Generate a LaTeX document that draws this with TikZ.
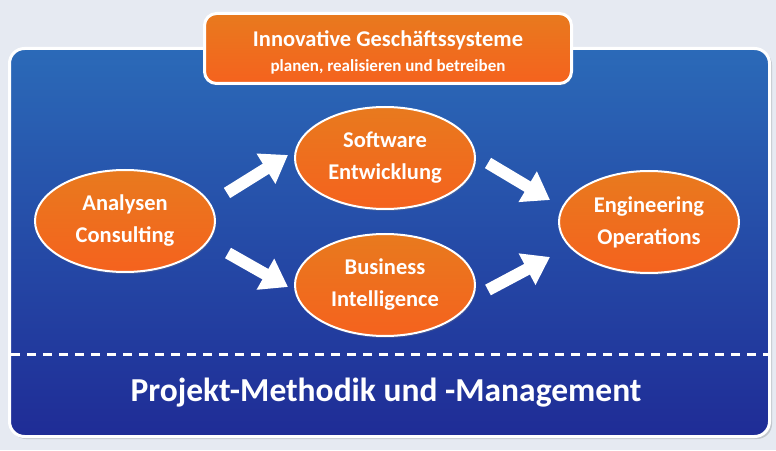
\documentclass[tikz,border=0pt]{standalone}
\usepackage{fontspec}
\setmainfont{Carlito}
\usetikzlibrary{shapes.geometric,arrows.meta,shadows}
\definecolor{bgpage}{RGB}{230,234,242}
\definecolor{paneltop}{RGB}{43,106,184}
\definecolor{panelbot}{RGB}{31,44,150}
\definecolor{orangetop}{RGB}{232,122,30}
\definecolor{orangebot}{RGB}{245,98,30}
\begin{document}
\begin{tikzpicture}[x=1pt,y=1pt,
  task/.style={ellipse,draw=white,line width=2pt,top color=orangetop,bottom color=orangebot,
    minimum width=180pt,minimum height=102pt,inner sep=0pt,align=center,text=white,
    font=\bfseries\fontsize{22.5}{32}\selectfont,
    drop shadow={opacity=0.3,shadow xshift=1pt,shadow yshift=-2pt}},
  flow/.style={white,line width=12pt,-{Triangle[width=34pt,length=26pt]}}]
\useasboundingbox (0,0) rectangle (776,450);
\fill[bgpage] (0,0) rectangle (776,450);
% panel
\fill[black,opacity=0.15,rounded corners=15pt] (11,11) rectangle (772,400);
\draw[white,line width=3pt,top color=paneltop,bottom color=panelbot,rounded corners=15pt] (9.5,13.5) rectangle (769.5,401.5);
\draw[white,line width=3pt,dash pattern=on 9pt off 7pt] (11,96) -- (768,96);
\node[text=white,font=\bfseries\fontsize{33.5}{38}\selectfont] (pm) at (386,57) {Projekt-Methodik und -Management};
% title box
\node[draw=white,line width=3pt,rounded corners=12pt,top color=orangetop,bottom color=orangebot,
  minimum width=367pt,minimum height=70pt,align=center,text=white,
  drop shadow={opacity=0.3,shadow xshift=1pt,shadow yshift=-2pt}] (title) at (388,401.5)
  {{\bfseries\fontsize{22.5}{26}\selectfont\rule{0pt}{24pt}Innovative Geschäftssysteme}\\[8pt]
   {\bfseries\fontsize{17}{20}\selectfont planen, realisieren und betreiben}};
% steps
\node[task] (ana) at (125,229) {Analysen\\Consulting};
\node[task] (sw) at (385,292) {Software\\Entwicklung};
\node[task] (bi) at (385,165) {Business\\Intelligence};
\node[task] (eng) at (649,228) {Engineering\\Operations};
% arrows
\coordinate (a1s) at (227,257); \coordinate (a1e) at (288,295);
\coordinate (a2s) at (228,197); \coordinate (a2e) at (288,163);
\coordinate (a3s) at (488,287); \coordinate (a3e) at (550,250);
\coordinate (a4s) at (488,160); \coordinate (a4e) at (550,193);
\draw[flow] (a1s) -- (a1e);
\draw[flow] (a2s) -- (a2e);
\draw[flow] (a3s) -- (a3e);
\draw[flow] (a4s) -- (a4e);
\end{tikzpicture}
\end{document}
